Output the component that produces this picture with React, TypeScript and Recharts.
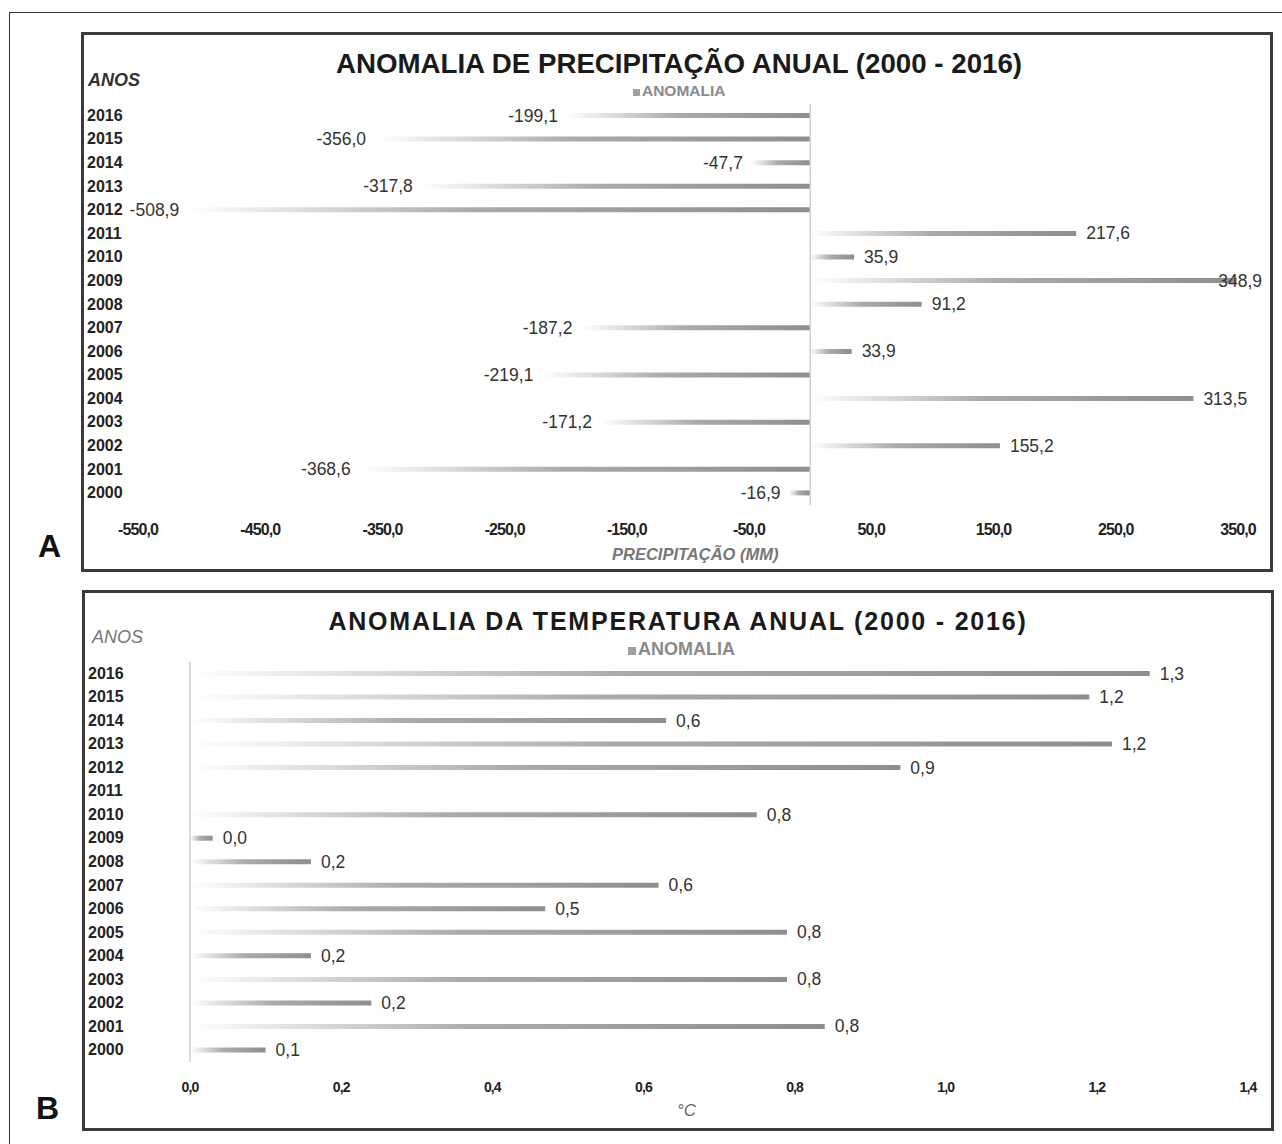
import { BarChart, Bar, XAxis, YAxis, ReferenceLine, LabelList } from 'recharts';

const YEARS = ['2016', '2015', '2014', '2013', '2012', '2011', '2010', '2009', '2008', '2007', '2006', '2005', '2004', '2003', '2002', '2001', '2000'];

// precipitation anomaly (mm), same order as YEARS
const PRECIP = [-199.1, -356.0, -47.7, -317.8, -508.9, 217.6, 35.9, 348.9, 91.2, -187.2, 33.9, -219.1, 313.5, -171.2, 155.2, -368.6, -16.9];

// temperature anomaly (°C); 2011 has no bar
const TEMP = [1.27, 1.19, 0.63, 1.22, 0.94, null, 0.75, 0.03, 0.16, 0.62, 0.47, 0.79, 0.16, 0.79, 0.24, 0.84, 0.1];

const PRECIP_TICKS = [-550, -450, -350, -250, -150, -50, 50, 150, 250, 350];
const TEMP_TICKS = [0, 0.2, 0.4, 0.6, 0.8, 1.0, 1.2, 1.4];

const precipData = YEARS.map((year, i) => ({ year, value: PRECIP[i] }));
const tempData = YEARS.map((year, i) => ({ year, value: TEMP[i] }));

const FONT = '"Liberation Sans", Arial, sans-serif';
const fmt = (v: number) => v.toFixed(1).replace('.', ',');

function YearTick(props: any) {
  const { y, payload } = props;
  return (
    <text x={3} y={y} dy={5} textAnchor="start" fontFamily={FONT} fontSize={16} fontWeight={700} fill="#222">
      {payload.value}
    </text>
  );
}

function makeXTick(size: number, dy: number) {
  return (props: any) => {
    const { x, y, payload } = props;
    return (
      <text x={x} y={y} dy={dy} textAnchor="middle" fontFamily={FONT} fontSize={size} fontWeight={700}
        letterSpacing={-0.9} fill="#222">
        {fmt(payload.value)}
      </text>
    );
  };
}

// labels never run past the right side of the frame (Excel pulls them back inside)
const makeValueLabel = (maxRight: number) => (props: any) => {
  const { x, y, width, height, value } = props;
  if (value === null || value === undefined) return null;
  const left = Math.min(x, x + width);
  const right = Math.max(x, x + width);
  const neg = value < 0;
  const text = fmt(value);
  const textW = text.length * 9.8;
  let tx = neg ? left - 9 : right + 10;
  let anchor: 'start' | 'end' = neg ? 'end' : 'start';
  if (!neg && tx + textW > maxRight) {
    tx = maxRight;
    anchor = 'end';
  }
  return (
    <text x={tx} y={y + height / 2} dy={6} textAnchor={anchor} fontFamily={FONT} fontSize={17.5} fill="#333">
      {text}
    </text>
  );
};

function Grad({ id }: { id: string }) {
  return (
    <defs>
      <linearGradient id={id} x1="0" y1="0" x2="1" y2="0">
        <stop offset="0%" stopColor="#ffffff" />
        <stop offset="45%" stopColor="#ababab" />
        <stop offset="100%" stopColor="#8e8e8e" />
      </linearGradient>
    </defs>
  );
}

const panelBox = {
  position: 'absolute' as const,
  border: '3px solid #3a3a3a',
  background: '#fff',
  boxSizing: 'border-box' as const,
};

function Legend({ left, top, size }: { left: number; top: number; size: number }) {
  return (
    <div style={{ position: 'absolute', left, top, fontFamily: FONT, fontSize: size, fontWeight: 700, color: '#8a8a8a', whiteSpace: 'nowrap' }}>
      <span style={{ display: 'inline-block', width: size * 0.45, height: size * 0.45, background: '#a0a0a0', marginRight: 2 }} />
      ANOMALIA
    </div>
  );
}

export default function App() {
  return (
    <div style={{ position: 'absolute', left: 0, top: 0, width: 1282, height: 1144, overflow: 'hidden', background: '#fff', fontFamily: FONT }}>
      <div style={{ position: 'absolute', left: 9, top: 12, width: 1290, height: 1150, border: '1.5px solid #333', boxSizing: 'border-box' }} />

      <div style={{ position: 'absolute', left: 38, top: 528, fontSize: 32, fontWeight: 700, color: '#111' }}>A</div>
      <div style={{ position: 'absolute', left: 36, top: 1090, fontSize: 32, fontWeight: 700, color: '#111' }}>B</div>

      {/* Panel A */}
      <div style={{ ...panelBox, left: 81, top: 32, width: 1192, height: 540 }}>
        <BarChart width={1186} height={534} data={precipData} layout="vertical"
          margin={{ top: 69, right: 32, left: 0, bottom: 0 }} barSize={5}>
          <Grad id="gradA" />
          <XAxis type="number" domain={[-550, 350]} ticks={PRECIP_TICKS} axisLine={false} tickLine={false}
            height={64} interval={0} tick={makeXTick(16, 22)} />
          <YAxis type="category" dataKey="year" width={54} axisLine={false} tickLine={false} tick={<YearTick />} interval={0} />
          <ReferenceLine x={0} stroke="#d0d0d0" strokeWidth={1.5} />
          <Bar dataKey="value" fill="url(#gradA)" isAnimationActive={false}>
            <LabelList dataKey="value" content={makeValueLabel(1178)} />
          </Bar>
        </BarChart>
        <div style={{ position: 'absolute', left: 0, right: 0, top: 13, textAlign: 'center', fontSize: 27.7, fontWeight: 700, color: '#1a1a1a', paddingLeft: 4 }}>
          ANOMALIA DE PRECIPITAÇÃO ANUAL (2000 - 2016)
        </div>
        <Legend left={549} top={47} size={15.5} />
        <div style={{ position: 'absolute', left: 4, top: 35, fontSize: 18, fontWeight: 700, fontStyle: 'italic', color: '#333' }}>ANOS</div>
        <div style={{ position: 'absolute', left: 528, top: 510, fontSize: 16.5, fontWeight: 700, fontStyle: 'italic', color: '#777' }}>PRECIPITAÇÃO (MM)</div>
      </div>

      {/* Panel B */}
      <div style={{ ...panelBox, left: 82, top: 590, width: 1192, height: 541 }}>
        <BarChart width={1186} height={535} data={tempData} layout="vertical"
          margin={{ top: 69, right: 23, left: 0, bottom: 0 }} barSize={5}>
          <Grad id="gradB" />
          <XAxis type="number" domain={[0, 1.4]} ticks={TEMP_TICKS} axisLine={false} tickLine={false}
            height={66} interval={0} tick={makeXTick(14, 22)} />
          <YAxis type="category" dataKey="year" width={105} axisLine={false} tickLine={false} tick={<YearTick />} interval={0} />
          <ReferenceLine x={0} stroke="#cfcfcf" strokeWidth={1.5} />
          <Bar dataKey="value" fill="url(#gradB)" isAnimationActive={false}>
            <LabelList dataKey="value" content={makeValueLabel(1178)} />
          </Bar>
        </BarChart>
        <div style={{ position: 'absolute', left: 0, right: 0, top: 14, textAlign: 'center', fontSize: 25, fontWeight: 700, color: '#1a1a1a', letterSpacing: 1.8 }}>
          ANOMALIA DA TEMPERATURA ANUAL (2000 - 2016)
        </div>
        <Legend left={543} top={46} size={18} />
        <div style={{ position: 'absolute', left: 7, top: 34, fontSize: 18, fontStyle: 'italic', color: '#777' }}>ANOS</div>
        <div style={{ position: 'absolute', left: 592, top: 508, fontSize: 17, fontStyle: 'italic', color: '#666' }}>°C</div>
      </div>
    </div>
  );
}
